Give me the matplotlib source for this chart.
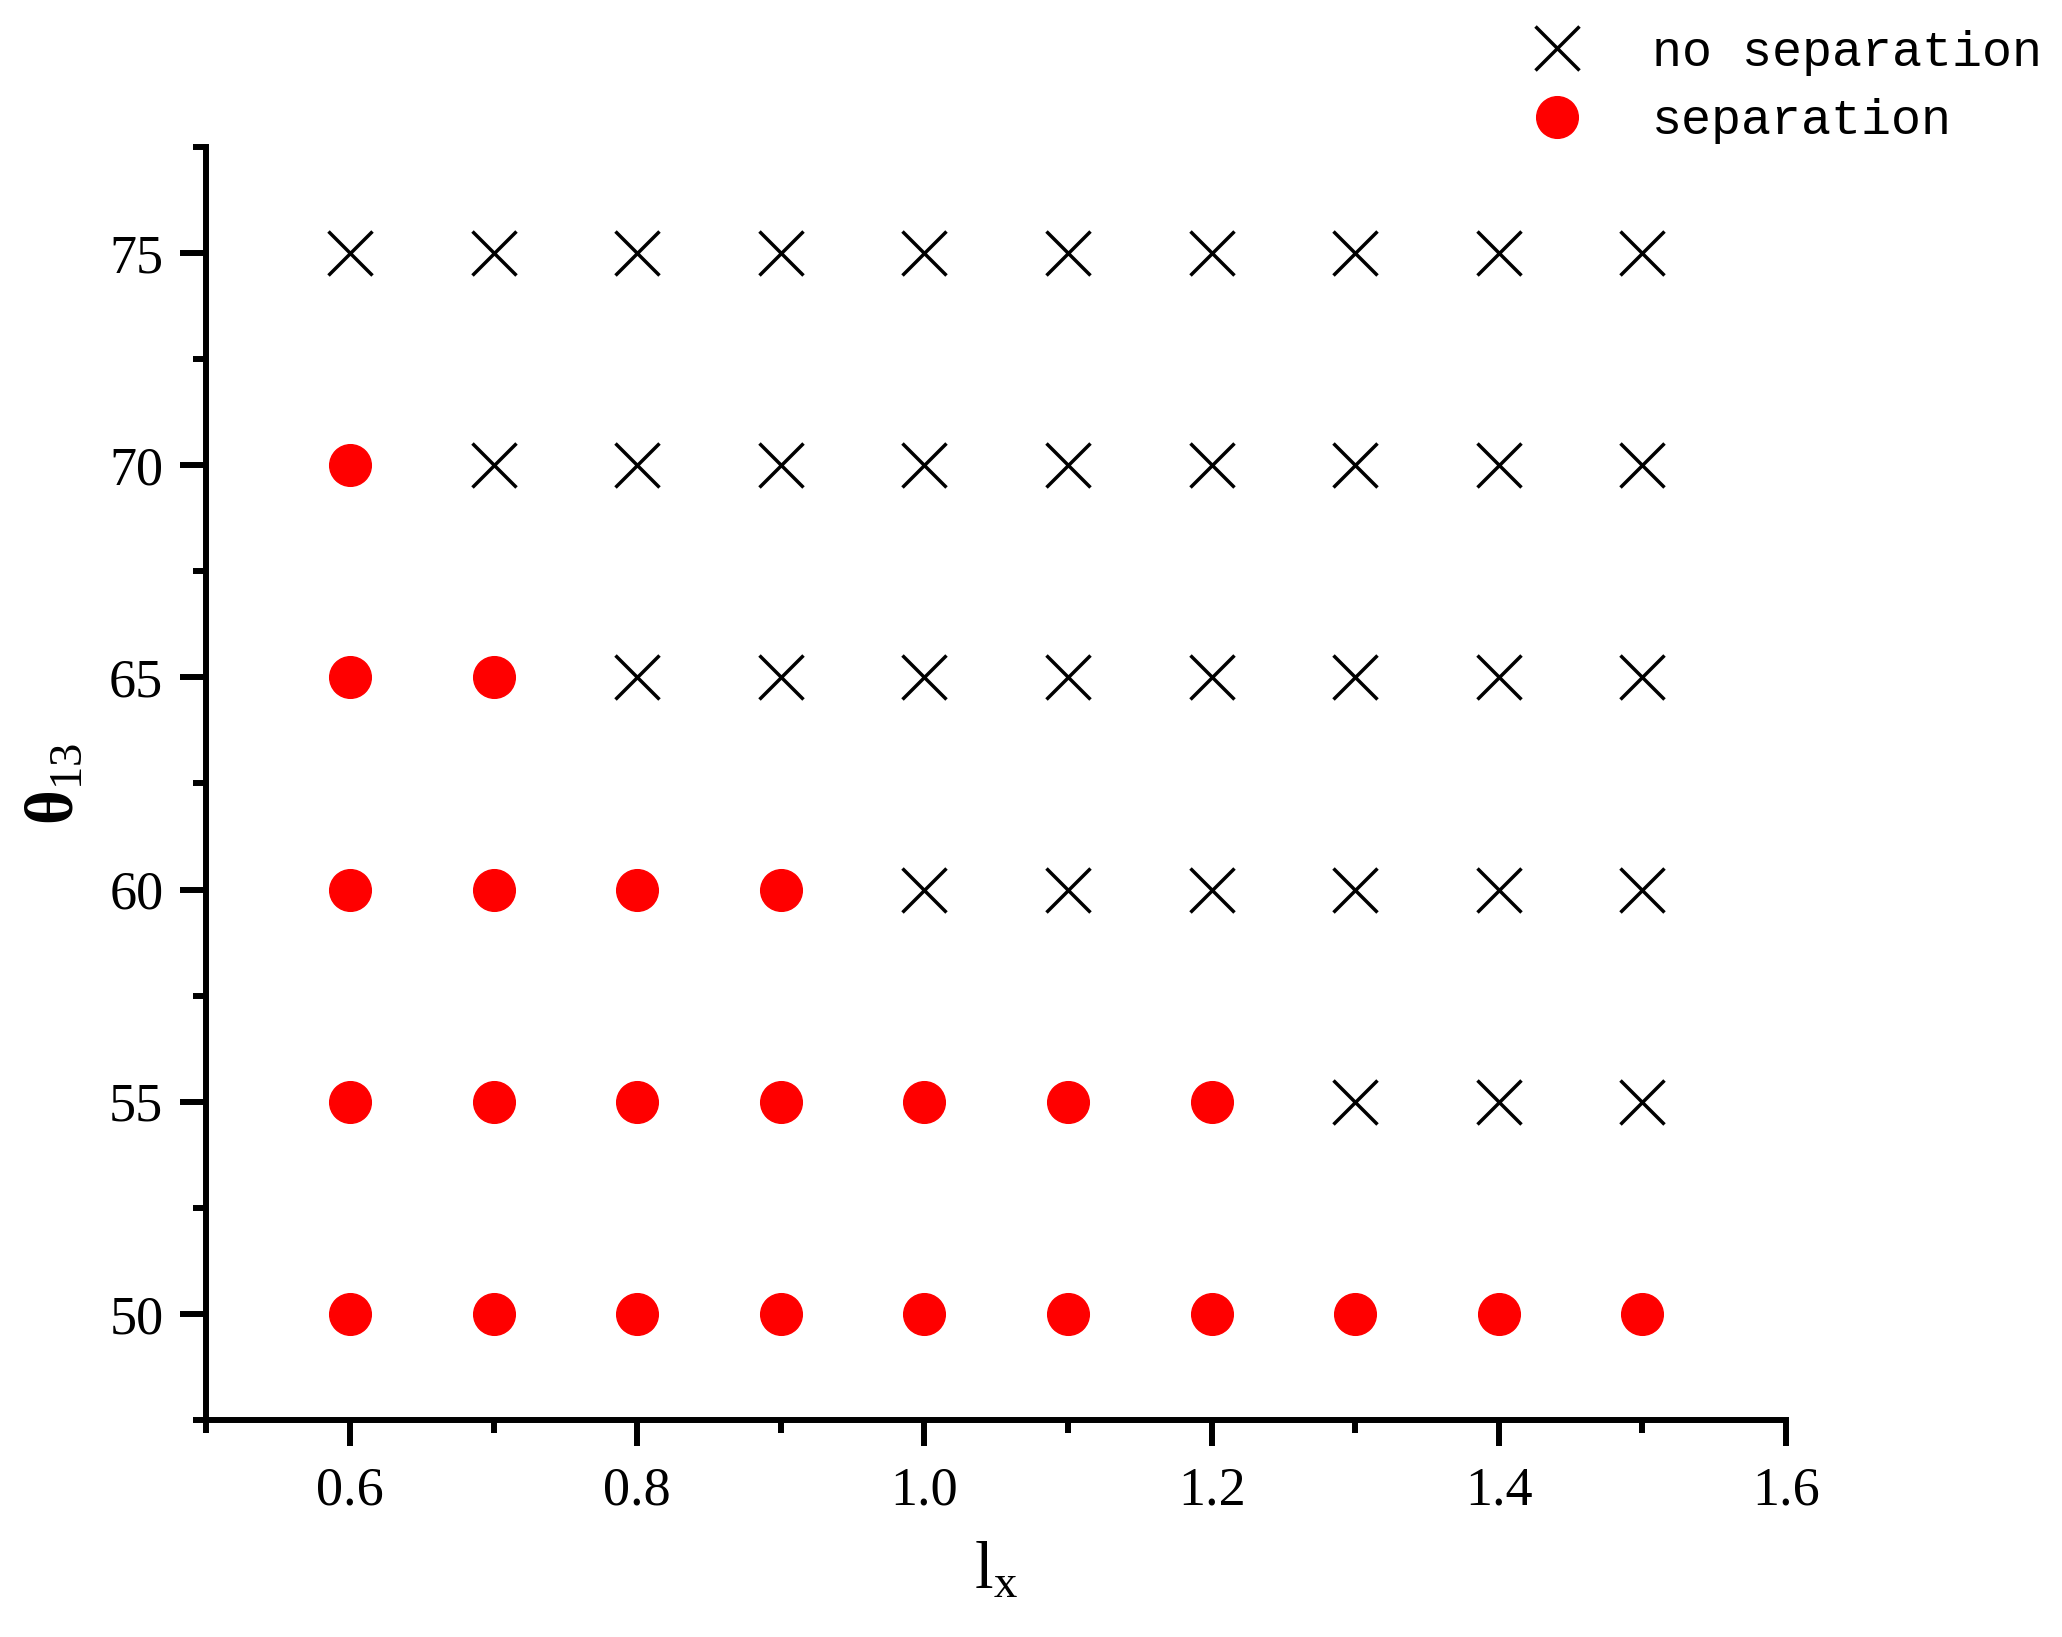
import matplotlib
matplotlib.use("Agg")
import matplotlib.pyplot as plt

# grid of cases: lx values and theta13 values
lx = [0.6, 0.7, 0.8, 0.9, 1.0, 1.1, 1.2, 1.3, 1.4, 1.5]
theta = [50, 55, 60, 65, 70, 75]
# number of lx values (from the left) that separate, per theta row
n_sep = [10, 7, 4, 2, 1, 0]

sep_x, sep_y, nosep_x, nosep_y = [], [], [], []
for t, n in zip(theta, n_sep):
    for i, x in enumerate(lx):
        if i < n:
            sep_x.append(x)
            sep_y.append(t)
        else:
            nosep_x.append(x)
            nosep_y.append(t)

plt.rcParams['font.family'] = ['Liberation Serif', 'DejaVu Serif']
plt.rcParams['mathtext.fontset'] = 'custom'
plt.rcParams['mathtext.rm'] = 'Liberation Serif'
plt.rcParams['mathtext.it'] = 'Liberation Serif'
plt.rcParams['mathtext.bf'] = 'Liberation Serif:bold'

fig = plt.figure(figsize=(20.62, 16.37), dpi=100)
ax = fig.add_axes([0.1001, 0.1326, 0.7661, 0.7776])

ax.plot(nosep_x, nosep_y, ls='none', marker='x', ms=31, mew=2.5, color='black',
        label='no separation')
ax.plot(sep_x, sep_y, ls='none', marker='o', ms=30, color='red', mec='red',
        label='separation')

ax.set_xlim(0.5, 1.6)
ax.set_ylim(47.5, 77.5)
ax.set_xticks([0.6, 0.8, 1.0, 1.2, 1.4, 1.6])
ax.set_xticks([0.5, 0.7, 0.9, 1.1, 1.3, 1.5], minor=True)
ax.set_yticks([50, 55, 60, 65, 70, 75])
ax.set_yticks([47.5, 52.5, 57.5, 62.5, 67.5, 72.5, 77.5], minor=True)
ax.xaxis.set_major_formatter(plt.FuncFormatter(lambda v, p: f'{v:.1f}'))

for s in ['top', 'right']:
    ax.spines[s].set_visible(False)
for s in ['left', 'bottom']:
    ax.spines[s].set_linewidth(4.3)
ax.tick_params(which='major', direction='out', length=19, width=4.3, labelsize=39, pad=12)
ax.tick_params(which='minor', direction='out', length=9.5, width=4.3)
ax.tick_params(axis='x', which='major', pad=14)

ax.set_xlabel(r'$\mathrm{l}_{\mathrm{x}}$', fontsize=48, labelpad=18)
ax.set_ylabel(r'$\mathbf{\theta}_{\mathrm{13}}$', fontsize=48, labelpad=16)

ax.legend(loc='upper left', bbox_to_anchor=(0.731, 0.997), bbox_transform=fig.transFigure,
          frameon=False, handlelength=1.0, handletextpad=1.4, borderpad=0,
          labelspacing=0.45, prop={'family': 'Liberation Mono', 'size': 36})

fig.savefig('out.png', dpi=100)
